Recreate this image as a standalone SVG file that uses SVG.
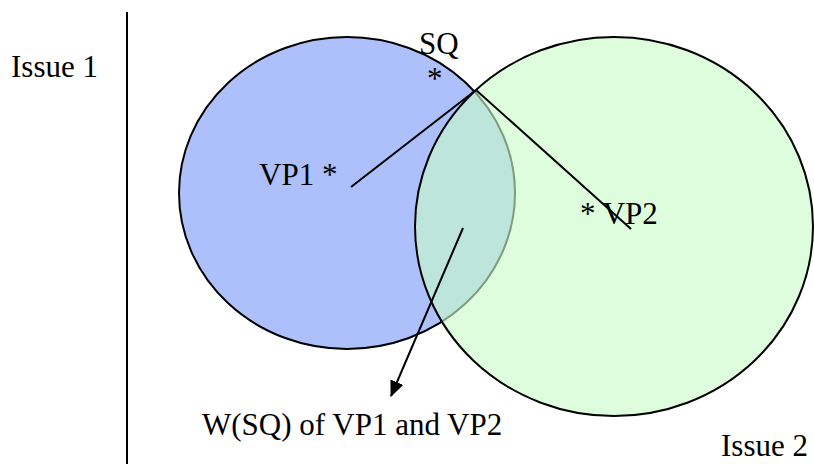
<svg xmlns="http://www.w3.org/2000/svg" width="814" height="464" viewBox="0 0 814 464" font-family="'Liberation Serif', 'Times New Roman', Times, serif">
  <style>
    .lbl { font-size: 31px; fill: #000; font-family: 'Liberation Serif', 'Times New Roman', Times, serif; }
    .edge { stroke: #000; stroke-width: 2; fill: none; }
    .circ { stroke: #000; stroke-width: 2; }
  </style>
  <defs>
    <marker id="arrow" markerWidth="16" markerHeight="14" refX="15" refY="7" orient="auto" markerUnits="userSpaceOnUse" viewBox="0 0 16 14">
      <path d="M0,0 L16,7 L0,14 Z" fill="#000"/>
    </marker>
  </defs>
  <rect width="814" height="464" fill="#fff"/>

  <!-- axis divider -->
  <line x1="127" y1="12" x2="127" y2="464" stroke="#000" stroke-width="2"/>

  <g id="issue1-label"><text class="lbl" x="11" y="77">Issue 1</text></g>
  <g id="issue2-label"><text class="lbl" x="721" y="456">Issue 2</text></g>

  <!-- indifference region of VP1 -->
  <g id="vp1">
    <ellipse class="circ" cx="347" cy="193" rx="168" ry="156" fill="#adc0fb"/>
    <text class="lbl" x="259" y="185">VP1 *</text>
  </g>

  <!-- indifference region of VP2, translucent so the overlap shows -->
  <g id="vp2">
    <ellipse cx="614" cy="226.5" rx="199" ry="189.5" fill="#c8fcc8" fill-opacity="0.62" stroke="#000" stroke-width="2"/>
    <text class="lbl" x="580" y="224">* VP2</text>
  </g>

  <g id="sq">
    <text class="lbl" x="419" y="54">SQ</text>
    <text class="lbl" x="427" y="89">*</text>
  </g>

  <g id="winset-label"><text class="lbl" x="202" y="435">W(SQ) of VP1 and VP2</text></g>

  <g id="connectors">
    <line class="edge" x1="351" y1="187" x2="476" y2="90"/>
    <line class="edge" x1="476" y1="90" x2="631" y2="229"/>
    <line class="edge" x1="463" y1="228" x2="391" y2="396" marker-end="url(#arrow)"/>
  </g>
</svg>
